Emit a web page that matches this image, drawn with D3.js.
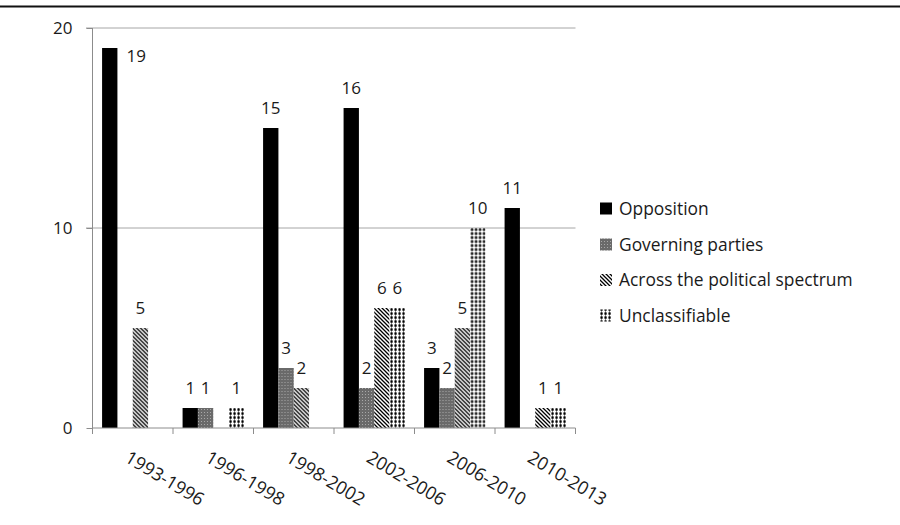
<!DOCTYPE html>
<html>
<head>
<meta charset="utf-8">
<script src="https://cdn.jsdelivr.net/npm/d3@7"></script>
<style>
  html, body { margin: 0; padding: 0; background: #fff; }
  svg { display: block; }
  text { font-family: "Open Sans", "Noto Sans", sans-serif; fill: #1a1a1a; }
</style>
</head>
<body>
<svg id="chart" width="900" height="525"></svg>
<script>
const categories = ["1993-1996", "1996-1998", "1998-2002", "2002-2006", "2006-2010", "2010-2013"];
const seriesNames = ["Opposition", "Governing parties", "Across the political spectrum", "Unclassifiable"];
const opposition     = [19, 1, 15, 16, 3, 11];
const governing      = [0, 1, 3, 2, 2, 0];
const across         = [5, 0, 2, 6, 5, 1];
const unclassifiable = [0, 1, 0, 6, 10, 1];
const yTicks = [0, 10, 20];

const seriesValues = [opposition, governing, across, unclassifiable];
const fills = ["#000", "url(#pGov)", "url(#pAcross)", "url(#pUnc)"];

const svg = d3.select("#chart");

// patterns
const defs = svg.append("defs");
const pGov = defs.append("pattern").attr("id", "pGov").attr("patternUnits", "userSpaceOnUse")
  .attr("width", 3).attr("height", 3);
pGov.append("rect").attr("width", 3).attr("height", 3).attr("fill", "#6a6a6a");
pGov.append("rect").attr("x", 1).attr("y", 1).attr("width", 1).attr("height", 1).attr("fill", "#a8a8a8");

const pAc = defs.append("pattern").attr("id", "pAcross").attr("patternUnits", "userSpaceOnUse")
  .attr("width", 4).attr("height", 4);
pAc.append("rect").attr("width", 4).attr("height", 4).attr("fill", "#fff");
pAc.append("path").attr("d", "M-1,-1 L5,5 M-1,3 L1,5 M3,-1 L5,1")
  .attr("stroke", "#000").attr("stroke-width", 1.3);

const pUn = defs.append("pattern").attr("id", "pUnc").attr("patternUnits", "userSpaceOnUse")
  .attr("width", 4).attr("height", 4);
pUn.append("rect").attr("width", 4).attr("height", 4).attr("fill", "#fff");
pUn.append("path").attr("d", "M1.5,0 V4").attr("stroke", "#444").attr("stroke-width", 0.6);
pUn.append("rect").attr("x", 0.4).attr("y", 0.4).attr("width", 2.3).attr("height", 2.3).attr("fill", "#000");

// top rule
svg.append("line").attr("x1", 0).attr("x2", 900).attr("y1", 6.5).attr("y2", 6.5)
  .attr("stroke", "#111").attr("stroke-width", 2);

const x0 = d3.scaleBand().domain(categories).range([92.5, 575.5]).padding(0);
const x1 = d3.scaleBand().domain(seriesNames).range([0, x0.bandwidth()])
  .paddingInner(0).paddingOuter(0.625);
const y = d3.scaleLinear().domain([0, 20]).range([428, 28]);

// gridlines
svg.append("g").selectAll("line").data(yTicks.filter(t => t > 0)).join("line")
  .attr("x1", 86).attr("x2", 575.5)
  .attr("y1", d => y(d)).attr("y2", d => y(d))
  .attr("stroke", "#a6a6a6").attr("stroke-width", 1);

// y axis
const yAxis = svg.append("g").attr("transform", "translate(92.5,0)")
  .call(d3.axisLeft(y).tickValues(yTicks).tickSize(6).tickPadding(14).tickFormat(d3.format("d")));
yAxis.select(".domain").attr("stroke", "#8c8c8c").attr("d", "M0,28V428");
yAxis.selectAll(".tick line").attr("stroke", "#8c8c8c");
yAxis.selectAll(".tick text").attr("font-size", 17).attr("fill", "#1a1a1a")
  .attr("font-family", "Open Sans, sans-serif");

// bars
const groups = svg.append("g").selectAll("g").data(categories).join("g")
  .attr("transform", d => `translate(${x0(d)},0)`);
groups.selectAll("rect").data((c, i) => seriesNames.map((s, j) => ({ s, j, v: seriesValues[j][i] })))
  .join("rect")
  .attr("x", d => x1(d.s))
  .attr("width", x1.bandwidth())
  .attr("y", d => y(d.v))
  .attr("height", d => y(0) - y(d.v))
  .attr("fill", d => fills[d.j]);

// value labels
const tooHigh = d => y(d.v) - 20 < 40;
groups.selectAll("text").data((c, i) => seriesNames.map((s, j) => ({ s, j, v: seriesValues[j][i] })).filter(d => d.v > 0))
  .join("text")
  .attr("font-size", 17)
  .attr("text-anchor", d => tooHigh(d) ? "start" : "middle")
  .attr("x", d => tooHigh(d) ? x1(d.s) + x1.bandwidth() + 9 : x1(d.s) + x1.bandwidth() / 2)
  .attr("y", d => tooHigh(d) ? y(d.v) + 14 : y(d.v) - 14)
  .text(d => d.v);

// x axis
const xAxis = svg.append("g").attr("transform", "translate(0,428)")
  .call(d3.axisBottom(x0).tickSize(0).tickFormat(""));
xAxis.select(".domain").attr("stroke", "#8c8c8c").attr("d", "M92.5,0H575.5");
xAxis.selectAll(".tick").remove();
const bounds = categories.map(c => x0(c)).concat([x0(categories[categories.length - 1]) + x0.bandwidth()]);
xAxis.selectAll("line.bt").data(bounds).join("line").attr("class", "bt")
  .attr("x1", d => d).attr("x2", d => d).attr("y1", 0).attr("y2", 6)
  .attr("stroke", "#8c8c8c");
svg.append("g").selectAll("text").data(categories).join("text")
  .attr("font-size", 18)
  .attr("text-anchor", "start")
  .attr("transform", d => `translate(${x0(d) + x0.bandwidth() / 2 - 9},461) rotate(31)`)
  .text(d => d);

// legend
const legend = svg.append("g");
const rowsY = [208.5, 244.5, 280, 315.5];
seriesNames.forEach((s, j) => {
  legend.append("rect").attr("x", 600).attr("y", rowsY[j] - 6).attr("width", 12).attr("height", 12)
    .attr("fill", fills[j]);
  legend.append("text").attr("x", 619).attr("y", rowsY[j]).attr("dy", "0.36em")
    .attr("font-size", 17.4).text(s);
});
</script>
</body>
</html>
